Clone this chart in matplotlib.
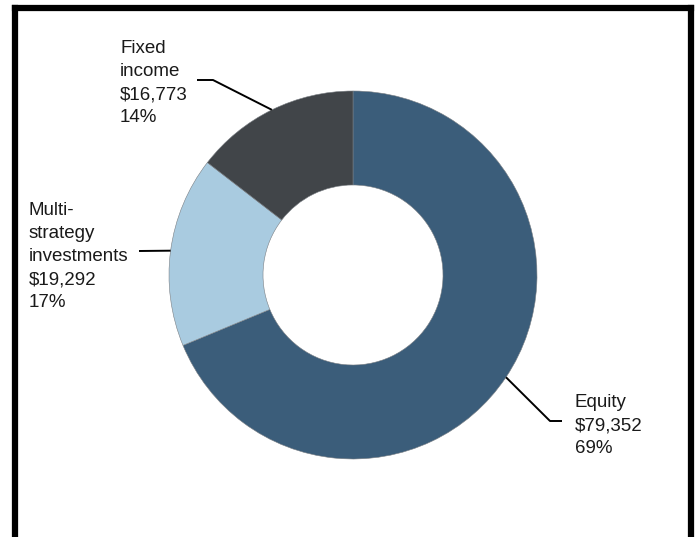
import numpy as np
import matplotlib
matplotlib.use("Agg")
import matplotlib.pyplot as plt

plt.rcParams['font.family'] = ['Liberation Sans', 'DejaVu Sans']

# Asset allocation (in $ thousands)
categories = ["Equity", "Multi-\nstrategy\ninvestments", "Fixed\nincome"]
values = [79352, 19292, 16773]
percent_labels = ["69%", "17%", "14%"]
colors = ["#3b5d7a", "#a9cbe0", "#414549"]

W, H = 697, 537
fig = plt.figure(figsize=(W / 100, H / 100), dpi=100)
ax = fig.add_axes([0, 0, 1, 1])
ax.set_xlim(0, W)
ax.set_ylim(0, H)
ax.set_aspect('equal')
ax.axis('off')

# Frame (open at the bottom)
frame_kw = dict(color='black', lw=4.5, solid_capstyle='projecting')
ax.plot([15, 15], [0, H - 8], **frame_kw)
ax.plot([15, 691], [H - 8, H - 8], **frame_kw)
ax.plot([691, 691], [H - 8, 0], **frame_kw)

center = (353, H - 275)
radius = 184
wedges, _ = ax.pie(values, colors=colors, startangle=90, counterclock=False,
                   center=center, radius=radius,
                   wedgeprops=dict(width=radius - 90, edgecolor='#7a7f84', linewidth=0.4))
ax.set_xlim(0, W)
ax.set_ylim(0, H)

text_color = '#1a1a1a'
fs = 13.5

# Label block positions (left x, top y in image px) and leader routes
label_pos = [(575, 394), (29, 202), (120, 40)]
leader_routes = [
    [(550, 421), (562, 421)],   # Equity: elbow then horizontal
    [(139, 251)],               # Multi-strategy: straight in
    [(213, 80), (197, 80)],     # Fixed income: elbow then horizontal
]

for w, cat, val, pct, (lx, ly), route in zip(wedges, categories, values,
                                              percent_labels, label_pos, leader_routes):
    mid = np.deg2rad((w.theta1 + w.theta2) / 2)
    x0 = center[0] + radius * np.cos(mid)
    y0 = center[1] + radius * np.sin(mid)
    xs = [x0] + [p[0] for p in route]
    ys = [y0] + [H - p[1] for p in route]
    ax.plot(xs, ys, color='black', lw=1.4, solid_capstyle='butt')
    txt = f"{cat}\n${val:,}\n{pct}"
    ax.text(lx, H - ly, txt, ha='left', va='top', fontsize=fs,
            color=text_color, linespacing=1.47)

fig.savefig("out.png", dpi=100, facecolor='white')
